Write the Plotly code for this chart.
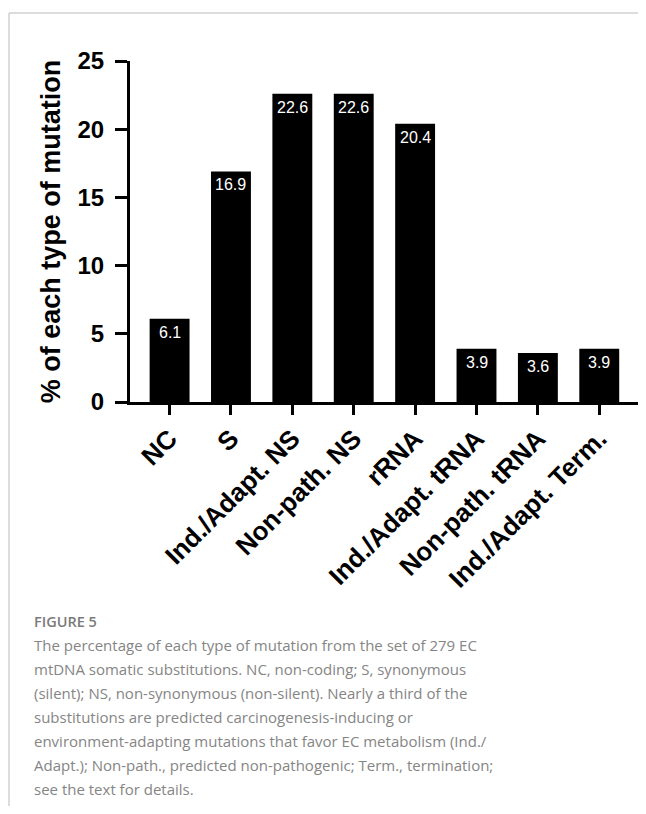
import plotly.graph_objects as go

categories = ["NC", "S", "Ind./Adapt. NS", "Non-path. NS", "rRNA",
              "Ind./Adapt. tRNA", "Non-path. tRNA", "Ind./Adapt. Term."]
percent = [6.1, 16.9, 22.6, 22.6, 20.4, 3.9, 3.6, 3.9]
value_labels = ["6.1", "16.9", "22.6", "22.6", "20.4", "3.9", "3.6", "3.9"]
y_ticks = [0, 5, 10, 15, 20, 25]

caption_title = "FIGURE 5"
caption_lines = [
    "The percentage of each type of mutation from the set of 279 EC",
    "mtDNA somatic substitutions. NC, non-coding; S, synonymous",
    "(silent); NS, non-synonymous (non-silent). Nearly a third of the",
    "substitutions are predicted carcinogenesis-inducing or",
    "environment-adapting mutations that favor EC metabolism (Ind./",
    "Adapt.); Non-path., predicted non-pathogenic; Term., termination;",
    "see the text for details.",
]

OFF = 8  # default page body margin
W, H = 646 - OFF, 814 - 2 * OFF
# plot area in page pixels: x 130..641, y 61..402
L = 130 - OFF
T = 61 - OFF
R = W - (641 - OFF)
B = H - (402 - OFF)
PW, PH = W - L - R, H - T - B


def px_x(x):
    return (x - OFF - L) / PW


def px_y(y):
    return (H - B - (y - OFF)) / PH


fig = go.Figure()
fig.add_trace(go.Bar(
    x=list(range(len(categories))), y=percent,
    marker=dict(color="black", line=dict(width=0)),
    width=0.65, hoverinfo="skip",
))

AX = dict(family="Liberation Sans, Arial, sans-serif", color="black")

annotations = []
for i, (v, lab) in enumerate(zip(percent, value_labels)):
    annotations.append(dict(
        x=i, y=v, xref="x", yref="y", text=lab, showarrow=False,
        yanchor="top", xanchor="center", yshift=-3,
        font=dict(family="Liberation Sans, Arial, sans-serif", size=16, color="white"),
    ))

annotations.append(dict(
    x=px_x(32), y=px_y(621), xref="paper", yref="paper", text=caption_title,
    showarrow=False, xanchor="left", yanchor="middle",
    font=dict(family="Open Sans, sans-serif", size=14.5, color="#7a7a7a", weight=600),
))
for k, line in enumerate(caption_lines):
    annotations.append(dict(
        x=px_x(32), y=px_y(645 + 24 * k), xref="paper", yref="paper", text=line,
        showarrow=False, xanchor="left", yanchor="middle",
        font=dict(family="Open Sans, sans-serif", size=15, color="#858585"),
    ))

shapes = [
    dict(type="line", xref="paper", yref="paper", x0=px_x(9), x1=px_x(9),
         y0=px_y(13), y1=px_y(814), line=dict(color="#d0d0d0", width=1.5)),
    dict(type="line", xref="paper", yref="paper", x0=px_x(9), x1=px_x(646),
         y0=px_y(13), y1=px_y(13), line=dict(color="#d0d0d0", width=1.5)),
]

fig.update_layout(
    width=W, height=H,
    margin=dict(l=L, r=R, t=T, b=B, autoexpand=False),
    plot_bgcolor="white", paper_bgcolor="white",
    showlegend=False,
    annotations=annotations, shapes=shapes,
    xaxis=dict(
        range=[-0.645, 7.68], tickmode="array",
        tickvals=list(range(len(categories))), ticktext=categories,
        tickangle=-45, ticks="outside", ticklen=10, tickwidth=3, tickcolor="black",
        showline=True, linewidth=3, linecolor="black", showgrid=False, zeroline=False,
        tickfont=dict(size=26, weight="bold", **AX), automargin=False,
        ticklabelstandoff=-2,
    ),
    yaxis=dict(
        range=[0, 25], tickmode="array", tickvals=y_ticks,
        ticks="outside", ticklen=12, tickwidth=3, tickcolor="black",
        showline=True, linewidth=3, linecolor="black", showgrid=False, zeroline=False,
        tickfont=dict(size=24, weight="bold", **AX), automargin=False,
        ticklabelstandoff=6,
        title=dict(text="% of each type of mutation", standoff=10,
                   font=dict(size=27, weight="bold", **AX)),
    ),
)

fig.write_html("out.html")
